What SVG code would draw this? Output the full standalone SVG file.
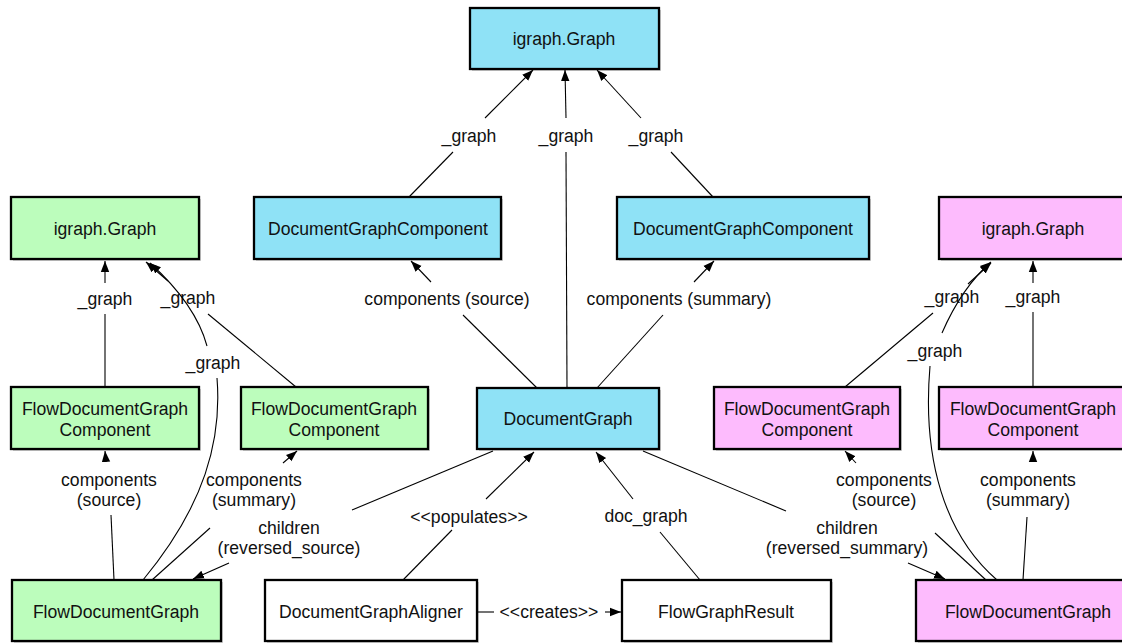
<svg xmlns="http://www.w3.org/2000/svg" width="1122" height="643" viewBox="0 0 1122 643">
<style>
.box{stroke:#000;stroke-width:2.3}
.shadow{fill:#000;opacity:0.18}
.blue{fill:#8FE2F6}
.green{fill:#BCFDBC}
.pink{fill:#FDBBFD}
.white{fill:#fff}
text{font-family:"Liberation Sans",Arial,sans-serif;font-size:17.6px;fill:#111;text-anchor:middle}
.edge{fill:none;stroke:#000;stroke-width:1.1}
</style>
<defs>
<marker id="arr" markerWidth="12" markerHeight="10" refX="11" refY="5" orient="auto" markerUnits="userSpaceOnUse">
<path d="M0,0.8 L11,5 L0,9.2 Z" fill="#000"/>
</marker>
</defs>
<rect width="1122" height="643" fill="#fff"/>

<g id="connectors">
<!-- top -->
<path class="edge" d="M409,197 L453,152"/><path class="edge" d="M485,118 L533,70" marker-end="url(#arr)"/>
<text x="469" y="142">_graph</text>
<path class="edge" d="M567,388 L566,152"/><path class="edge" d="M566,118 L565,70" marker-end="url(#arr)"/>
<text x="566" y="142">_graph</text>
<path class="edge" d="M713,197 L671,152"/><path class="edge" d="M641,118 L597,70" marker-end="url(#arr)"/>
<text x="656" y="142">_graph</text>
<path class="edge" d="M537,388 L463,315"/><path class="edge" d="M431,282 L411,261" marker-end="url(#arr)"/>
<text x="447" y="305">components (source)</text>
<path class="edge" d="M597,388 L663,315"/><path class="edge" d="M694,282 L714,261" marker-end="url(#arr)"/>
<text x="679" y="305">components (summary)</text>
<!-- green -->
<path class="edge" d="M105,387 L105,314"/><path class="edge" d="M105,283 L105,261" marker-end="url(#arr)"/>
<text x="105" y="305">_graph</text>
<path class="edge" d="M296,387 L208,314"/><path class="edge" d="M168,281 L146,262" marker-end="url(#arr)"/>
<text x="188" y="304">_graph</text>
<path class="edge" d="M143,580 C205,505 222,440 217,378"/><path class="edge" d="M207,346 C200,320 182,292 150,263" marker-end="url(#arr)"/>
<text x="213" y="369">_graph</text>
<path class="edge" d="M114,580 L111,515"/><path class="edge" d="M106,462 L105,451" marker-end="url(#arr)"/>
<text x="109" y="486">components</text><text x="109" y="506">(source)</text>
<path class="edge" d="M152,580 L210,528"/><path class="edge" d="M283,463 L297,451" marker-end="url(#arr)"/>
<text x="254" y="486">components</text><text x="254" y="506">(summary)</text>
<path class="edge" d="M493,451 L352,510"/><path class="edge" d="M229,563 L193,579" marker-end="url(#arr)"/>
<text x="289" y="534">children</text><text x="289" y="554">(reversed_source)</text>
<!-- middle bottom -->
<path class="edge" d="M403,580 L452,530"/><path class="edge" d="M486,499 L534,452" marker-end="url(#arr)"/>
<text x="469" y="523">&lt;&lt;populates&gt;&gt;</text>
<path class="edge" d="M700,580 L660,532"/><path class="edge" d="M633,499 L596,452" marker-end="url(#arr)"/>
<text x="646" y="522">doc_graph</text>
<path class="edge" d="M643,451 L786,511"/><path class="edge" d="M908,563 L945,579" marker-end="url(#arr)"/>
<text x="847" y="534">children</text><text x="847" y="554">(reversed_summary)</text>
<path class="edge" d="M477,612 L494,612"/><path class="edge" d="M605,612 L621,612" marker-end="url(#arr)"/>
<text x="549" y="618">&lt;&lt;creates&gt;&gt;</text>
<!-- pink -->
<path class="edge" d="M986,580 L935,533"/><path class="edge" d="M856,463 L845,451" marker-end="url(#arr)"/>
<text x="884" y="486">components</text><text x="884" y="506">(source)</text>
<path class="edge" d="M1023,580 L1027,517"/><path class="edge" d="M1033,460 L1033,451" marker-end="url(#arr)"/>
<text x="1028" y="486">components</text><text x="1028" y="506">(summary)</text>
<path class="edge" d="M997,580 C945,535 922,460 930,366"/><path class="edge" d="M942,333 C952,310 968,282 991,262" marker-end="url(#arr)"/>
<text x="935" y="357">_graph</text>
<path class="edge" d="M845,387 L933,313"/><path class="edge" d="M968,284 L991,263" marker-end="url(#arr)"/>
<text x="952" y="303">_graph</text>
<path class="edge" d="M1033,387 L1033,312"/><path class="edge" d="M1033,283 L1033,261" marker-end="url(#arr)"/>
<text x="1033" y="303">_graph</text>
</g>

<g id="igraph-top"><rect class="shadow" x="472" y="10" width="189" height="61"/><rect class="box blue" x="470" y="8" width="189" height="61"/><text x="564" y="45">igraph.Graph</text></g>
<g id="dgc-source"><rect class="shadow" x="256" y="199" width="247" height="62"/><rect class="box blue" x="254" y="197" width="247" height="62"/><text x="378" y="235">DocumentGraphComponent</text></g>
<g id="dgc-summary"><rect class="shadow" x="619" y="199" width="252" height="62"/><rect class="box blue" x="617" y="197" width="252" height="62"/><text x="743" y="235">DocumentGraphComponent</text></g>
<g id="document-graph"><rect class="shadow" x="479" y="390" width="182" height="61"/><rect class="box blue" x="477" y="388" width="182" height="61"/><text x="568" y="425">DocumentGraph</text></g>

<g id="igraph-green"><rect class="shadow" x="13" y="199" width="188" height="62"/><rect class="box green" x="11" y="197" width="188" height="62"/><text x="105" y="235">igraph.Graph</text></g>
<g id="fdgc-green-source"><rect class="shadow" x="13" y="389" width="188" height="62"/><rect class="box green" x="11" y="387" width="188" height="62"/><text x="105" y="415">FlowDocumentGraph</text><text x="105" y="436">Component</text></g>
<g id="fdgc-green-summary"><rect class="shadow" x="243" y="389" width="187" height="62"/><rect class="box green" x="241" y="387" width="187" height="62"/><text x="334" y="415">FlowDocumentGraph</text><text x="334" y="436">Component</text></g>
<g id="fdg-green"><rect class="shadow" x="14" y="582" width="209" height="61"/><rect class="box green" x="12" y="580" width="209" height="61"/><text x="116" y="618">FlowDocumentGraph</text></g>

<g id="aligner"><rect class="shadow" x="267" y="582" width="212" height="61"/><rect class="box white" x="265" y="580" width="212" height="61"/><text x="371" y="618">DocumentGraphAligner</text></g>
<g id="flow-graph-result"><rect class="shadow" x="624" y="582" width="209" height="61"/><rect class="box white" x="622" y="580" width="209" height="61"/><text x="726" y="618">FlowGraphResult</text></g>

<g id="igraph-pink"><rect class="shadow" x="941" y="199" width="188" height="62"/><rect class="box pink" x="939" y="197" width="188" height="62"/><text x="1033" y="235">igraph.Graph</text></g>
<g id="fdgc-pink-source"><rect class="shadow" x="716" y="389" width="186" height="62"/><rect class="box pink" x="714" y="387" width="186" height="62"/><text x="807" y="415">FlowDocumentGraph</text><text x="807" y="436">Component</text></g>
<g id="fdgc-pink-summary"><rect class="shadow" x="941" y="389" width="188" height="62"/><rect class="box pink" x="939" y="387" width="188" height="62"/><text x="1033" y="415">FlowDocumentGraph</text><text x="1033" y="436">Component</text></g>
<g id="fdg-pink"><rect class="shadow" x="918" y="582" width="224" height="61"/><rect class="box pink" x="916" y="580" width="224" height="61"/><text x="1028" y="618">FlowDocumentGraph</text></g>
</svg>
